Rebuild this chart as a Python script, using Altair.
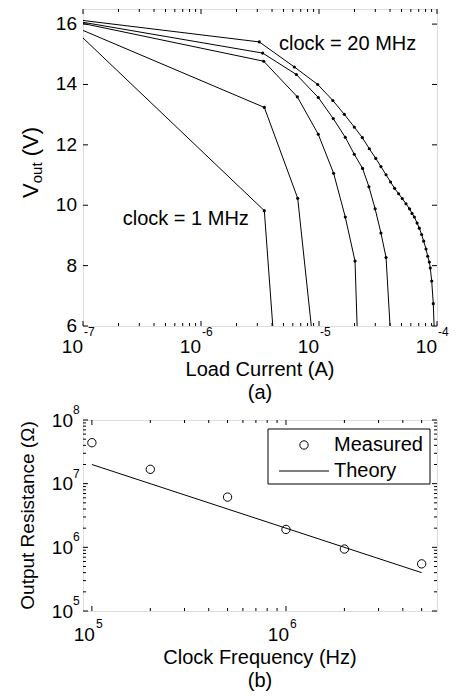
import altair as alt
import pandas as pd

FONT = "Liberation Sans"

# ---------------- panel (a): Vout vs load current ----------------
i_1mhz = [1e-7, 3.44e-6, 6.67e-6]
v_1mhz = [15.54, 9.82, -5.5]
i_2mhz = [1e-7, 3.44e-6, 6.6e-6, 1.0e-5]
v_2mhz = [15.79, 13.24, 10.23, 3.6]
i_5mhz = [1e-7, 3.40e-6, 6.55e-6, 9.86e-6, 1.33e-5, 1.67e-5, 2.02e-5, 2.34e-5]
v_5mhz = [16.02, 14.77, 13.59, 12.35, 11.06, 9.61, 8.15, 0.4]
i_10mhz = [1e-7, 3.33e-6, 6.43e-6, 9.86e-6, 1.32e-5, 1.67e-5, 1.99e-5, 2.34e-5,
           2.65e-5, 2.99e-5, 3.35e-5, 3.70e-5, 4.2e-5]
v_10mhz = [16.06, 15.04, 14.33, 13.57, 12.87, 12.25, 11.69, 11.22,
           10.61, 9.88, 9.08, 8.27, 4.58]
i_20mhz = [1e-7, 3.12e-6, 6.18e-6, 9.75e-6, 1.31e-5, 1.64e-5, 1.99e-5, 2.33e-5,
           2.67e-5, 3.03e-5, 3.35e-5, 3.70e-5, 4.04e-5, 4.37e-5, 4.73e-5, 5.08e-5,
           5.46e-5, 5.85e-5, 6.14e-5, 6.43e-5, 6.78e-5, 7.08e-5, 7.41e-5, 7.71e-5,
           8.07e-5, 8.34e-5, 8.61e-5, 8.77e-5, 9.02e-5, 9.30e-5, 9.60e-5]
v_20mhz = [16.12, 15.41, 14.58, 14.0, 13.47, 13.01, 12.59, 12.24,
           11.87, 11.55, 11.28, 11.01, 10.77, 10.56, 10.38, 10.22,
           10.05, 9.88, 9.73, 9.61, 9.41, 9.24, 9.03, 8.81,
           8.55, 8.31, 8.12, 7.92, 7.49, 6.74, 5.3]
curve_names = ["1 MHz", "2 MHz", "5 MHz", "10 MHz", "20 MHz"]
curve_i = [i_1mhz, i_2mhz, i_5mhz, i_10mhz, i_20mhz]
curve_v = [v_1mhz, v_2mhz, v_5mhz, v_10mhz, v_20mhz]

load_ticks = [1e-7, 1e-6, 1e-5, 1e-4]
load_exps = ["-7", "-6", "-5", "-4"]
vout_ticks = [6, 8, 10, 12, 14, 16]
ann_a_text = ["clock = 20 MHz", "clock = 1 MHz"]
ann_a_i = [4.58e-6, 2.17e-7]
ann_a_v = [15.35, 9.53]

# ---------------- panel (b): output resistance vs clock ----------------
freq_meas = [1e5, 2e5, 5e5, 1e6, 2e6, 5e6]
r_meas = [4.4e7, 1.68e7, 6.15e6, 1.91e6, 9.4e5, 5.5e5]
freq_theory = [1e5, 5e6]
r_theory = [2.0e7, 4.0e5]
freq_ticks = [1e5, 1e6]
freq_exps = ["5", "6"]
res_ticks = [1e5, 1e6, 1e7, 1e8]
res_exps = ["5", "6", "7", "8"]
mantissas = [2, 3, 4, 5, 6, 7, 8, 9]

W = 354
H1 = 317
H2 = 191
MAJ = 5
MIN = 3

xs1 = alt.Scale(type="log", domain=[1e-7, 1e-4], nice=False)
ys1 = alt.Scale(domain=[6, 16.5], nice=False, zero=False)
xs2 = alt.Scale(type="log", domain=[9e4, 6e6], nice=False)
ys2 = alt.Scale(type="log", domain=[1e5, 1e8], nice=False)


def xtick_layers(vals, xs, H, L):
    d = pd.DataFrame({"v": vals})
    base = alt.Chart(d).mark_rule(color="black", strokeWidth=1)
    enc_x = alt.X("v:Q", scale=xs, axis=None)
    return [
        base.encode(x=enc_x, y=alt.value(H - L), y2=alt.value(H)),
        base.encode(x=enc_x, y=alt.value(0), y2=alt.value(L)),
    ]


def ytick_layers(vals, ys, L):
    d = pd.DataFrame({"v": vals})
    base = alt.Chart(d).mark_rule(color="black", strokeWidth=1)
    enc_y = alt.Y("v:Q", scale=ys, axis=None)
    return [
        base.encode(y=enc_y, x=alt.value(0), x2=alt.value(L)),
        base.encode(y=enc_y, x=alt.value(W - L), x2=alt.value(W)),
    ]


# ---- panel (a) layers ----
rows = []
for name, ii, vv in zip(curve_names, curve_i, curve_v):
    for k, (a, b) in enumerate(zip(ii, vv)):
        rows.append({"I": a, "V": b, "curve": name, "k": k})
df_a = pd.DataFrame(rows)

enc_xa = alt.X("I:Q", scale=xs1, axis=None)
enc_ya = alt.Y("V:Q", scale=ys1, axis=None)

lines_a = alt.Chart(df_a).mark_line(color="black", strokeWidth=1, clip=True).encode(
    x=enc_xa, y=enc_ya, detail="curve:N", order="k:Q")
dots_a = alt.Chart(df_a).transform_filter("datum.k > 0").mark_point(
    filled=True, color="black", size=10, opacity=1, clip=True).encode(x=enc_xa, y=enc_ya)

ann_a = alt.Chart(pd.DataFrame({"I": ann_a_i, "V": ann_a_v, "t": ann_a_text})).mark_text(
    align="left", baseline="middle", fontSize=20, font=FONT, color="black").encode(
    x=enc_xa, y=enc_ya, text="t:N")

yl_a = alt.Chart(pd.DataFrame({"v": vout_ticks})).mark_text(
    align="right", baseline="middle", fontSize=19, font=FONT, color="black", dx=-6).encode(
    y=alt.Y("v:Q", scale=ys1, axis=None), x=alt.value(0), text="v:Q")

xl_df_a = pd.DataFrame({"v": load_ticks, "e": load_exps})
xl_a = alt.Chart(xl_df_a).mark_text(
    align="right", baseline="alphabetic", fontSize=19, font=FONT, color="black").encode(
    x=alt.X("v:Q", scale=xs1, axis=None), y=alt.value(H1 + 27), text=alt.value("10"))
xe_a = alt.Chart(xl_df_a).mark_text(
    align="left", baseline="alphabetic", fontSize=12, font=FONT, color="black", dx=1).encode(
    x=alt.X("v:Q", scale=xs1, axis=None), y=alt.value(H1 + 10), text="e:N")

one = pd.DataFrame({"t": [""]})
title_parts_a = [
    ("V", -52, 189, 22),
    ("out", -46, 174.3, 15),
    ("(V)", -52, 147.3, 22),
]
ytitle_a = [
    alt.Chart(one).mark_text(align="left", baseline="middle", angle=270, fontSize=fs,
                             font=FONT, color="black").encode(
        x=alt.value(xx), y=alt.value(yy), text=alt.value(t))
    for t, xx, yy, fs in title_parts_a
]
xtitle_a = alt.Chart(one).mark_text(align="center", baseline="alphabetic", fontSize=20,
                                    font=FONT, color="black").encode(
    x=alt.value(W / 2), y=alt.value(H1 + 50), text=alt.value("Load Current (A)"))
cap_a = alt.Chart(one).mark_text(align="center", baseline="alphabetic", fontSize=20,
                                 font=FONT, color="black").encode(
    x=alt.value(W / 2), y=alt.value(H1 + 73), text=alt.value("(a)"))

load_minor = [m * t for t in load_ticks[:-1] for m in mantissas]
ticks_a = (xtick_layers(load_ticks, xs1, H1, MAJ) + xtick_layers(load_minor, xs1, H1, MIN)
           + ytick_layers(vout_ticks, ys1, MAJ))

panel_a = alt.layer(
    *ticks_a, lines_a, dots_a, ann_a, yl_a, xl_a, xe_a, *ytitle_a, xtitle_a, cap_a
).properties(width=W, height=H1)

# ---- panel (b) layers ----
enc_xb = alt.X("f:Q", scale=xs2, axis=None)
enc_yb = alt.Y("r:Q", scale=ys2, axis=None)

theory_b = alt.Chart(pd.DataFrame({"f": freq_theory, "r": r_theory})).mark_line(
    color="black", strokeWidth=1).encode(x=enc_xb, y=enc_yb)
meas_b = alt.Chart(pd.DataFrame({"f": freq_meas, "r": r_meas})).mark_point(
    shape="circle", filled=False, size=70, color="black", strokeWidth=1, opacity=1).encode(
    x=enc_xb, y=enc_yb)

xl_df_b = pd.DataFrame({"v": freq_ticks, "e": freq_exps})
xl_b = alt.Chart(xl_df_b).mark_text(
    align="right", baseline="alphabetic", fontSize=19, font=FONT, color="black", dx=3).encode(
    x=alt.X("v:Q", scale=xs2, axis=None), y=alt.value(H2 + 30), text=alt.value("10"))
xe_b = alt.Chart(xl_df_b).mark_text(
    align="left", baseline="alphabetic", fontSize=12, font=FONT, color="black", dx=4).encode(
    x=alt.X("v:Q", scale=xs2, axis=None), y=alt.value(H2 + 17), text="e:N")

yl_df_b = pd.DataFrame({"v": res_ticks, "e": res_exps})
yl_b = alt.Chart(yl_df_b).mark_text(
    align="right", baseline="alphabetic", fontSize=19, font=FONT, color="black", dy=6.5).encode(
    y=alt.Y("v:Q", scale=ys2, axis=None), x=alt.value(-10), text=alt.value("10"))
ye_b = alt.Chart(yl_df_b).mark_text(
    align="left", baseline="alphabetic", fontSize=12, font=FONT, color="black", dy=-6).encode(
    y=alt.Y("v:Q", scale=ys2, axis=None), x=alt.value(-10), text="e:N")

ytitle_b = alt.Chart(one).mark_text(align="center", baseline="middle", angle=270, fontSize=19,
                                    font=FONT, color="black").encode(
    x=alt.value(-55), y=alt.value(H2 / 2), text=alt.value("Output Resistance (Ω)"))
xtitle_b = alt.Chart(one).mark_text(align="center", baseline="alphabetic", fontSize=20,
                                    font=FONT, color="black").encode(
    x=alt.value(W / 2), y=alt.value(H2 + 53), text=alt.value("Clock Frequency (Hz)"))
cap_b = alt.Chart(one).mark_text(align="center", baseline="alphabetic", fontSize=20,
                                 font=FONT, color="black").encode(
    x=alt.value(W / 2), y=alt.value(H2 + 76), text=alt.value("(b)"))

anchor_b = alt.Chart(one).mark_rule(strokeOpacity=0, strokeWidth=0).encode(
    x=alt.value(-74), x2=alt.value(-74), y=alt.value(0), y2=alt.value(1))

leg_box = alt.Chart(one).mark_rect(fill="white", stroke="black", strokeWidth=1).encode(
    x=alt.value(185), x2=alt.value(347), y=alt.value(9), y2=alt.value(64))
leg_circle = alt.Chart(one).mark_point(shape="circle", filled=False, size=70, color="black",
                                       strokeWidth=1, opacity=1).encode(
    x=alt.value(221), y=alt.value(25))
leg_line = alt.Chart(one).mark_rule(color="black", strokeWidth=1).encode(
    x=alt.value(196), x2=alt.value(246), y=alt.value(51))
leg_text = alt.Chart(pd.DataFrame({"t": ["Measured", "Theory"], "yy": [25, 51]})).mark_text(
    align="left", baseline="middle", fontSize=20, font=FONT, color="black").encode(
    x=alt.value(251), y=alt.Y("yy:Q", scale=None), text="t:N")

freq_minor = [m * 1e5 for m in mantissas] + [m * 1e6 for m in [2, 3, 4, 5]]
res_minor = [m * t for t in res_ticks[:-1] for m in mantissas]
ticks_b = (xtick_layers(freq_ticks, xs2, H2, MAJ) + xtick_layers(freq_minor, xs2, H2, MIN)
           + ytick_layers(res_ticks, ys2, MAJ) + ytick_layers(res_minor, ys2, MIN))

panel_b = alt.layer(
    *ticks_b, theory_b, meas_b, leg_box, leg_circle, leg_line, leg_text,
    xl_b, xe_b, yl_b, ye_b, ytitle_b, xtitle_b, cap_b, anchor_b
).properties(width=W, height=H2)

chart = alt.vconcat(panel_a, panel_b, spacing=94, bounds="flush").properties(
    padding=0
).configure_view(stroke="black", strokeWidth=1).configure(background="white")

chart.save("out.html", embed_options={"renderer": "svg", "actions": False})
